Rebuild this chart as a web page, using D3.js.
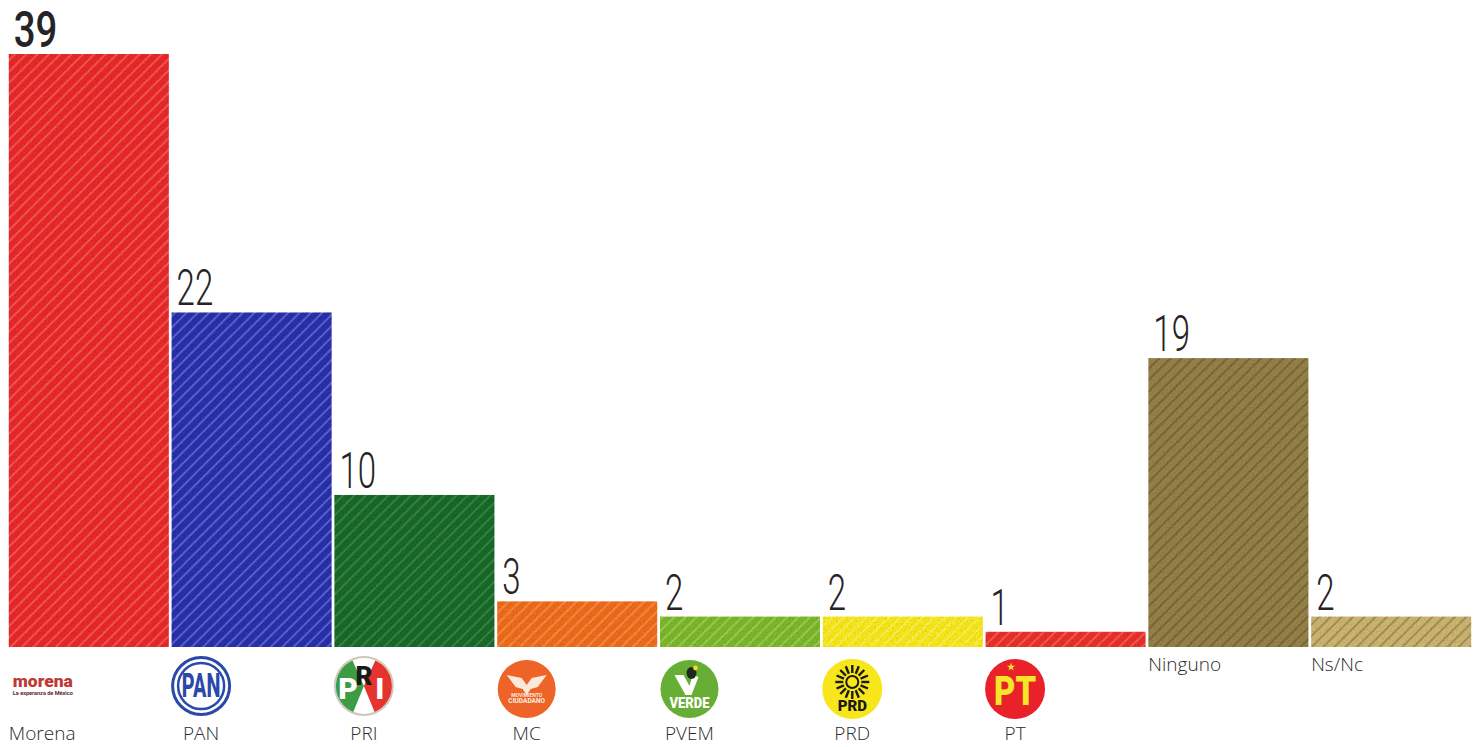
<!DOCTYPE html>
<html>
<head>
<meta charset="utf-8">
<script src="https://cdn.jsdelivr.net/npm/d3@7"></script>
<style>
  html, body { margin: 0; padding: 0; background: #fff; }
  svg { display: block; }
</style>
</head>
<body>
<svg width="1481" height="747"></svg>
<script>
const categories = ['Morena', 'PAN', 'PRI', 'MC', 'PVEM', 'PRD', 'PT', 'Ninguno', 'Ns/Nc'];
const values = [39, 22, 10, 3, 2, 2, 1, 19, 2];
const barColors = ['#ea2a2b', '#2a30ac', '#1c6a2c', '#f06c1f', '#7cb82b', '#f8e81c', '#ea322c', '#96824a', '#cdb672'];
const hatchColors = ['#fa8277', '#8d93e6', '#559a5f', '#f9a76e', '#b8dc82', '#fcf488', '#fa8277', '#5f5128', '#7d6c38'];
const noLogo = ['Ninguno', 'Ns/Nc'];

const svg = d3.select('svg');
const width = +svg.attr('width');
const height = +svg.attr('height');

const baseline = 647;

const xScale = d3.scaleBand()
    .domain(categories)
    .range([8, 1472])
    .paddingInner(0.017)
    .paddingOuter(0.005);

const yScale = d3.scaleLinear()
    .domain([0, 39])
    .range([baseline, 54]);

const defs = svg.append('defs');

categories.forEach((c, i) => {
    const p = defs.append('pattern')
        .attr('id', `hatch${i}`)
        .attr('patternUnits', 'userSpaceOnUse')
        .attr('width', 8)
        .attr('height', 8)
        .attr('patternTransform', 'rotate(45)');
    p.append('rect')
        .attr('width', 8)
        .attr('height', 8)
        .attr('fill', barColors[i]);
    p.append('line')
        .attr('x1', 1).attr('x2', 1)
        .attr('y1', 0).attr('y2', 8)
        .attr('stroke', hatchColors[i])
        .attr('stroke-width', 1);
});

// print grain on the bars
const grain = defs.append('filter')
    .attr('id', 'grain')
    .attr('x', 0).attr('y', 0)
    .attr('width', 1).attr('height', 1);
grain.append('feTurbulence')
    .attr('type', 'fractalNoise')
    .attr('baseFrequency', 0.55)
    .attr('numOctaves', 2)
    .attr('seed', 4)
    .attr('result', 'noise');
grain.append('feColorMatrix')
    .attr('in', 'noise')
    .attr('type', 'matrix')
    .attr('values', '0 0 0 0 0  0 0 0 0 0  0 0 0 0 0  0.5 0 0 0 -0.2')
    .attr('result', 'dark');
grain.append('feComposite')
    .attr('in', 'dark')
    .attr('in2', 'SourceGraphic')
    .attr('operator', 'in')
    .attr('result', 'clipped');
const merge = grain.append('feMerge');
merge.append('feMergeNode').attr('in', 'SourceGraphic');
merge.append('feMergeNode').attr('in', 'clipped');

// bars
svg.append('g')
    .selectAll('rect').data(categories)
    .enter().append('rect')
    .attr('class', 'bar')
    .attr('x', d => xScale(d))
    .attr('y', (d, i) => yScale(values[i]))
    .attr('width', xScale.bandwidth())
    .attr('height', (d, i) => baseline - yScale(values[i]))
    .attr('fill', (d, i) => `url(#hatch${i})`)
    .attr('filter', 'url(#grain)');

// value labels, squeezed to look like the condensed original
svg.selectAll('text.value').data(categories)
    .enter().append('text')
    .attr('class', 'value')
    .attr('transform', (d, i) => `translate(${xScale(d) + 5}, ${yScale(values[i]) - 7}) scale(${i === 0 ? 0.76 : 0.66}, 1)`)
    .attr('font-family', 'Roboto')
    .attr('font-size', (d, i) => i === 0 ? 50.5 : 50)
    .attr('font-weight', (d, i) => i === 0 ? 500 : 300)
    .attr('fill', '#262326')
    .text((d, i) => values[i]);

// category labels
const labelX = d => xScale(d) + 29.5;

svg.selectAll('text.cat').data(categories)
    .enter().append('text')
    .attr('class', 'cat')
    .attr('x', d => (d === 'Morena' || noLogo.includes(d)) ? xScale(d) : labelX(d))
    .attr('y', d => noLogo.includes(d) ? 671 : 740)
    .attr('text-anchor', d => (d === 'Morena' || noLogo.includes(d)) ? 'start' : 'middle')
    .attr('font-family', 'Open Sans')
    .attr('font-weight', 300)
    .attr('font-size', 19)
    .attr('fill', '#2c2a2c')
    .text(d => d);

// logos
const logoText = (g, str, y, size, fill, weight = 800, family = 'Roboto') =>
    g.append('text')
        .attr('y', y)
        .attr('text-anchor', 'middle')
        .attr('font-family', family)
        .attr('font-weight', weight)
        .attr('font-size', size)
        .attr('fill', fill)
        .text(str);

const logoG = (name, cy) => svg.append('g')
    .attr('transform', `translate(${labelX(name)}, ${cy})`);

const morena = svg.append('g')
    .attr('transform', `translate(${xScale('Morena') + 34}, 684)`);
logoText(morena, 'morena', 3, 16, '#bd3a36', 900)
    .attr('textLength', 60)
    .attr('lengthAdjust', 'spacingAndGlyphs');
logoText(morena, 'La esperanza de México', 11, 4.5, '#5a2a2a', 700)
    .attr('textLength', 60)
    .attr('lengthAdjust', 'spacingAndGlyphs');

const pan = logoG('PAN', 686);
pan.append('circle').attr('r', 28.5).attr('fill', '#fff').attr('stroke', '#2a49a8').attr('stroke-width', 3);
pan.append('circle').attr('r', 23).attr('fill', 'none').attr('stroke', '#2a49a8').attr('stroke-width', 2.5);
logoText(pan, 'PAN', 0, 30, '#2a49a8', 800)
    .attr('transform', 'translate(0, 11) scale(0.66, 1.1)');

const pri = logoG('PRI', 686);
const priArc = d3.arc().innerRadius(0).outerRadius(28);
pri.append('circle').attr('r', 30).attr('fill', '#cfc8b8');
pri.append('circle').attr('r', 28).attr('fill', '#fff');
pri.append('path')
    .attr('d', priArc({ startAngle: -2.75, endAngle: -0.42 }))
    .attr('fill', '#3d9a45');
pri.append('path')
    .attr('d', priArc({ startAngle: 0.42, endAngle: 2.75 }))
    .attr('fill', '#e5332e');
logoText(pri, 'P', 13, 30, '#fff', 900).attr('x', -16);
logoText(pri, 'R', -1, 26, '#1b1a1a', 900);
logoText(pri, 'I', 13, 30, '#fff', 900).attr('x', 16);

const mc = logoG('MC', 689);
mc.append('circle').attr('r', 29).attr('fill', '#ee6327');
mc.append('path')
    .attr('d', d3.line()([[-20, -14], [-5, -11], [0, -4], [5, -11], [20, -14], [11, -2], [4, 0], [0, 6], [-4, 0], [-11, -2]]) + 'Z')
    .attr('fill', '#fbe9dc');
logoText(mc, 'MOVIMIENTO', 8, 5, '#fbe9dc', 700);
logoText(mc, 'CIUDADANO', 14, 6.5, '#fbe9dc', 800);

const pvem = logoG('PVEM', 689);
pvem.append('circle').attr('r', 29).attr('fill', '#67ae35');
pvem.append('path')
    .attr('d', d3.line()([[-15, -14], [-6, -14], [0, -3], [3, -14], [9, -12], [2, 6], [-4, 6]]) + 'Z')
    .attr('fill', '#fff');
pvem.append('ellipse').attr('cx', 2).attr('cy', -16).attr('rx', 5).attr('ry', 6).attr('fill', '#1f2a1c');
pvem.append('circle').attr('cx', 6).attr('cy', -21).attr('r', 2.4).attr('fill', '#f3d928');
logoText(pvem, 'VERDE', 19, 14, '#fff', 900)
    .attr('textLength', 40)
    .attr('lengthAdjust', 'spacingAndGlyphs');

const prd = logoG('PRD', 689);
prd.append('circle').attr('r', 30).attr('fill', '#f7e61c');
prd.selectAll('line').data(d3.range(16))
    .enter().append('line')
    .attr('x1', d => 9 * Math.cos(d * Math.PI / 8))
    .attr('y1', d => -7 + 9 * Math.sin(d * Math.PI / 8))
    .attr('x2', d => 17 * Math.cos(d * Math.PI / 8))
    .attr('y2', d => -7 + 17 * Math.sin(d * Math.PI / 8))
    .attr('stroke', '#1c1a12')
    .attr('stroke-width', 2.4);
prd.append('circle').attr('cy', -7).attr('r', 6).attr('fill', 'none').attr('stroke', '#1c1a12').attr('stroke-width', 2);
logoText(prd, 'PRD', 22, 15, '#1c1a12', 900);

const pt = logoG('PT', 689);
pt.append('circle').attr('r', 30).attr('fill', '#e9222a');
logoText(pt, 'PT', 16, 40, '#f5e62a', 900)
    .attr('transform', 'scale(0.82, 1)');
pt.append('path')
    .attr('d', d3.symbol().type(d3.symbolStar).size(22))
    .attr('transform', 'translate(-4, -22)')
    .attr('fill', '#f5e62a');
</script>
</body>
</html>
